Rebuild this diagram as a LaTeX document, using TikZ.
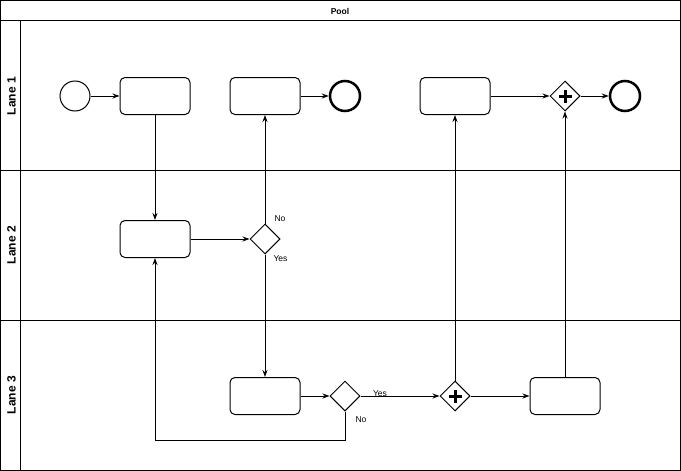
\documentclass[tikz,border=0pt]{standalone}
\usepackage{fontspec}
\setmainfont{Liberation Sans}
\usetikzlibrary{arrows.meta,positioning,shapes.geometric}

\begin{document}
\begin{tikzpicture}[x=1pt,y=-1pt,line width=1pt,
      t/.style={draw,rounded corners=5pt,minimum width=70pt,minimum height=37pt,inner sep=0pt},
      ev/.style={draw,circle,minimum size=30pt,inner sep=0pt},
      ee/.style={ev,line width=2.5pt},
      g/.style={draw,diamond,aspect=1,minimum size=30pt,inner sep=0pt},
      a/.style={-{Stealth[length=7pt,width=5pt]}},
      l/.style={font=\fontsize{8.5}{10}\selectfont,inner sep=0pt},
      ln/.style={font=\fontsize{12}{14}\selectfont\bfseries,rotate=90}]
      \useasboundingbox (0,0) rectangle (681,471);
      % pool and lanes
      \draw (0.5,0.5) rectangle (680,470);
      \draw (0.5,20) -- (680,20);
      \draw (20,20) -- (20,470);
      \foreach \y in {170,320} {
        \draw (0.5,\y) -- (680,\y);
      }
      \node[l,font=\fontsize{8.5}{10}\selectfont\bfseries] (pool) at (340,11) {Pool};
      \foreach \i/\y in {1/96,2/245,3/395} {
        \node[ln] (lane\i) at (11.5,\y) {Lane \i};
      }
      % lane 1
      \node[ev] (s) at (75,96) {};
      \node[t] (t1) at (155,96) {};
      \node[t] (t2) at (265,96) {};
      \node[ee] (e1) at (345,96) {};
      \node[t] (t3) at (455,96) {};
      \node[g] (p1) at (565,96) {};
      \node[ee] (e2) at (625,96) {};
      % lane 2
      \node[t] (t4) at (155,239) {};
      \node[g] (g1) at (265,239) {};
      % lane 3
      \node[t] (t5) at (265,396) {};
      \node[g] (g2) at (345,396) {};
      \node[g] (p2) at (455,396) {};
      \node[t] (t6) at (565,396) {};
      \coordinate (c) at (155,440);
      \foreach \p in {p1,p2} {
        \draw[line width=3pt] ([xshift=-6.5pt]\p.center) -- ([xshift=6.5pt]\p.center);
        \draw[line width=3pt] ([yshift=-6.5pt]\p.center) -- ([yshift=6.5pt]\p.center);
      }
      \draw[a] (s) -- (t1);
      \draw[a] (t1) -- (t4);
      \draw[a] (t4) -- (g1);
      \draw[a] (g1.north) -- (t2.south) node[l,pos=0,anchor=south west,xshift=9pt,yshift=1pt] {No};
      \draw[a] (g1.south) -- (t5.north) node[l,pos=0,anchor=north west,xshift=8pt,yshift=-1pt] {Yes};
      \draw[a] (t2) -- (e1);
      \draw[a] (t5) -- (g2);
      \draw[a] (g2) -- (p2) node[l,pos=0,anchor=south west,xshift=12pt,yshift=-1pt] {Yes};
      \draw[a] (g2.south) |- (c) -- (t4.south);
      \node[l,anchor=north west] (no2) at (355,416) {No};
      \draw[a] (p2) -- (t3);
      \draw[a] (p2) -- (t6);
      \draw[a] (t6) -- (p1);
      \draw[a] (t3) -- (p1);
      \draw[a] (p1) -- (e2);
    \end{tikzpicture}
\end{document}
